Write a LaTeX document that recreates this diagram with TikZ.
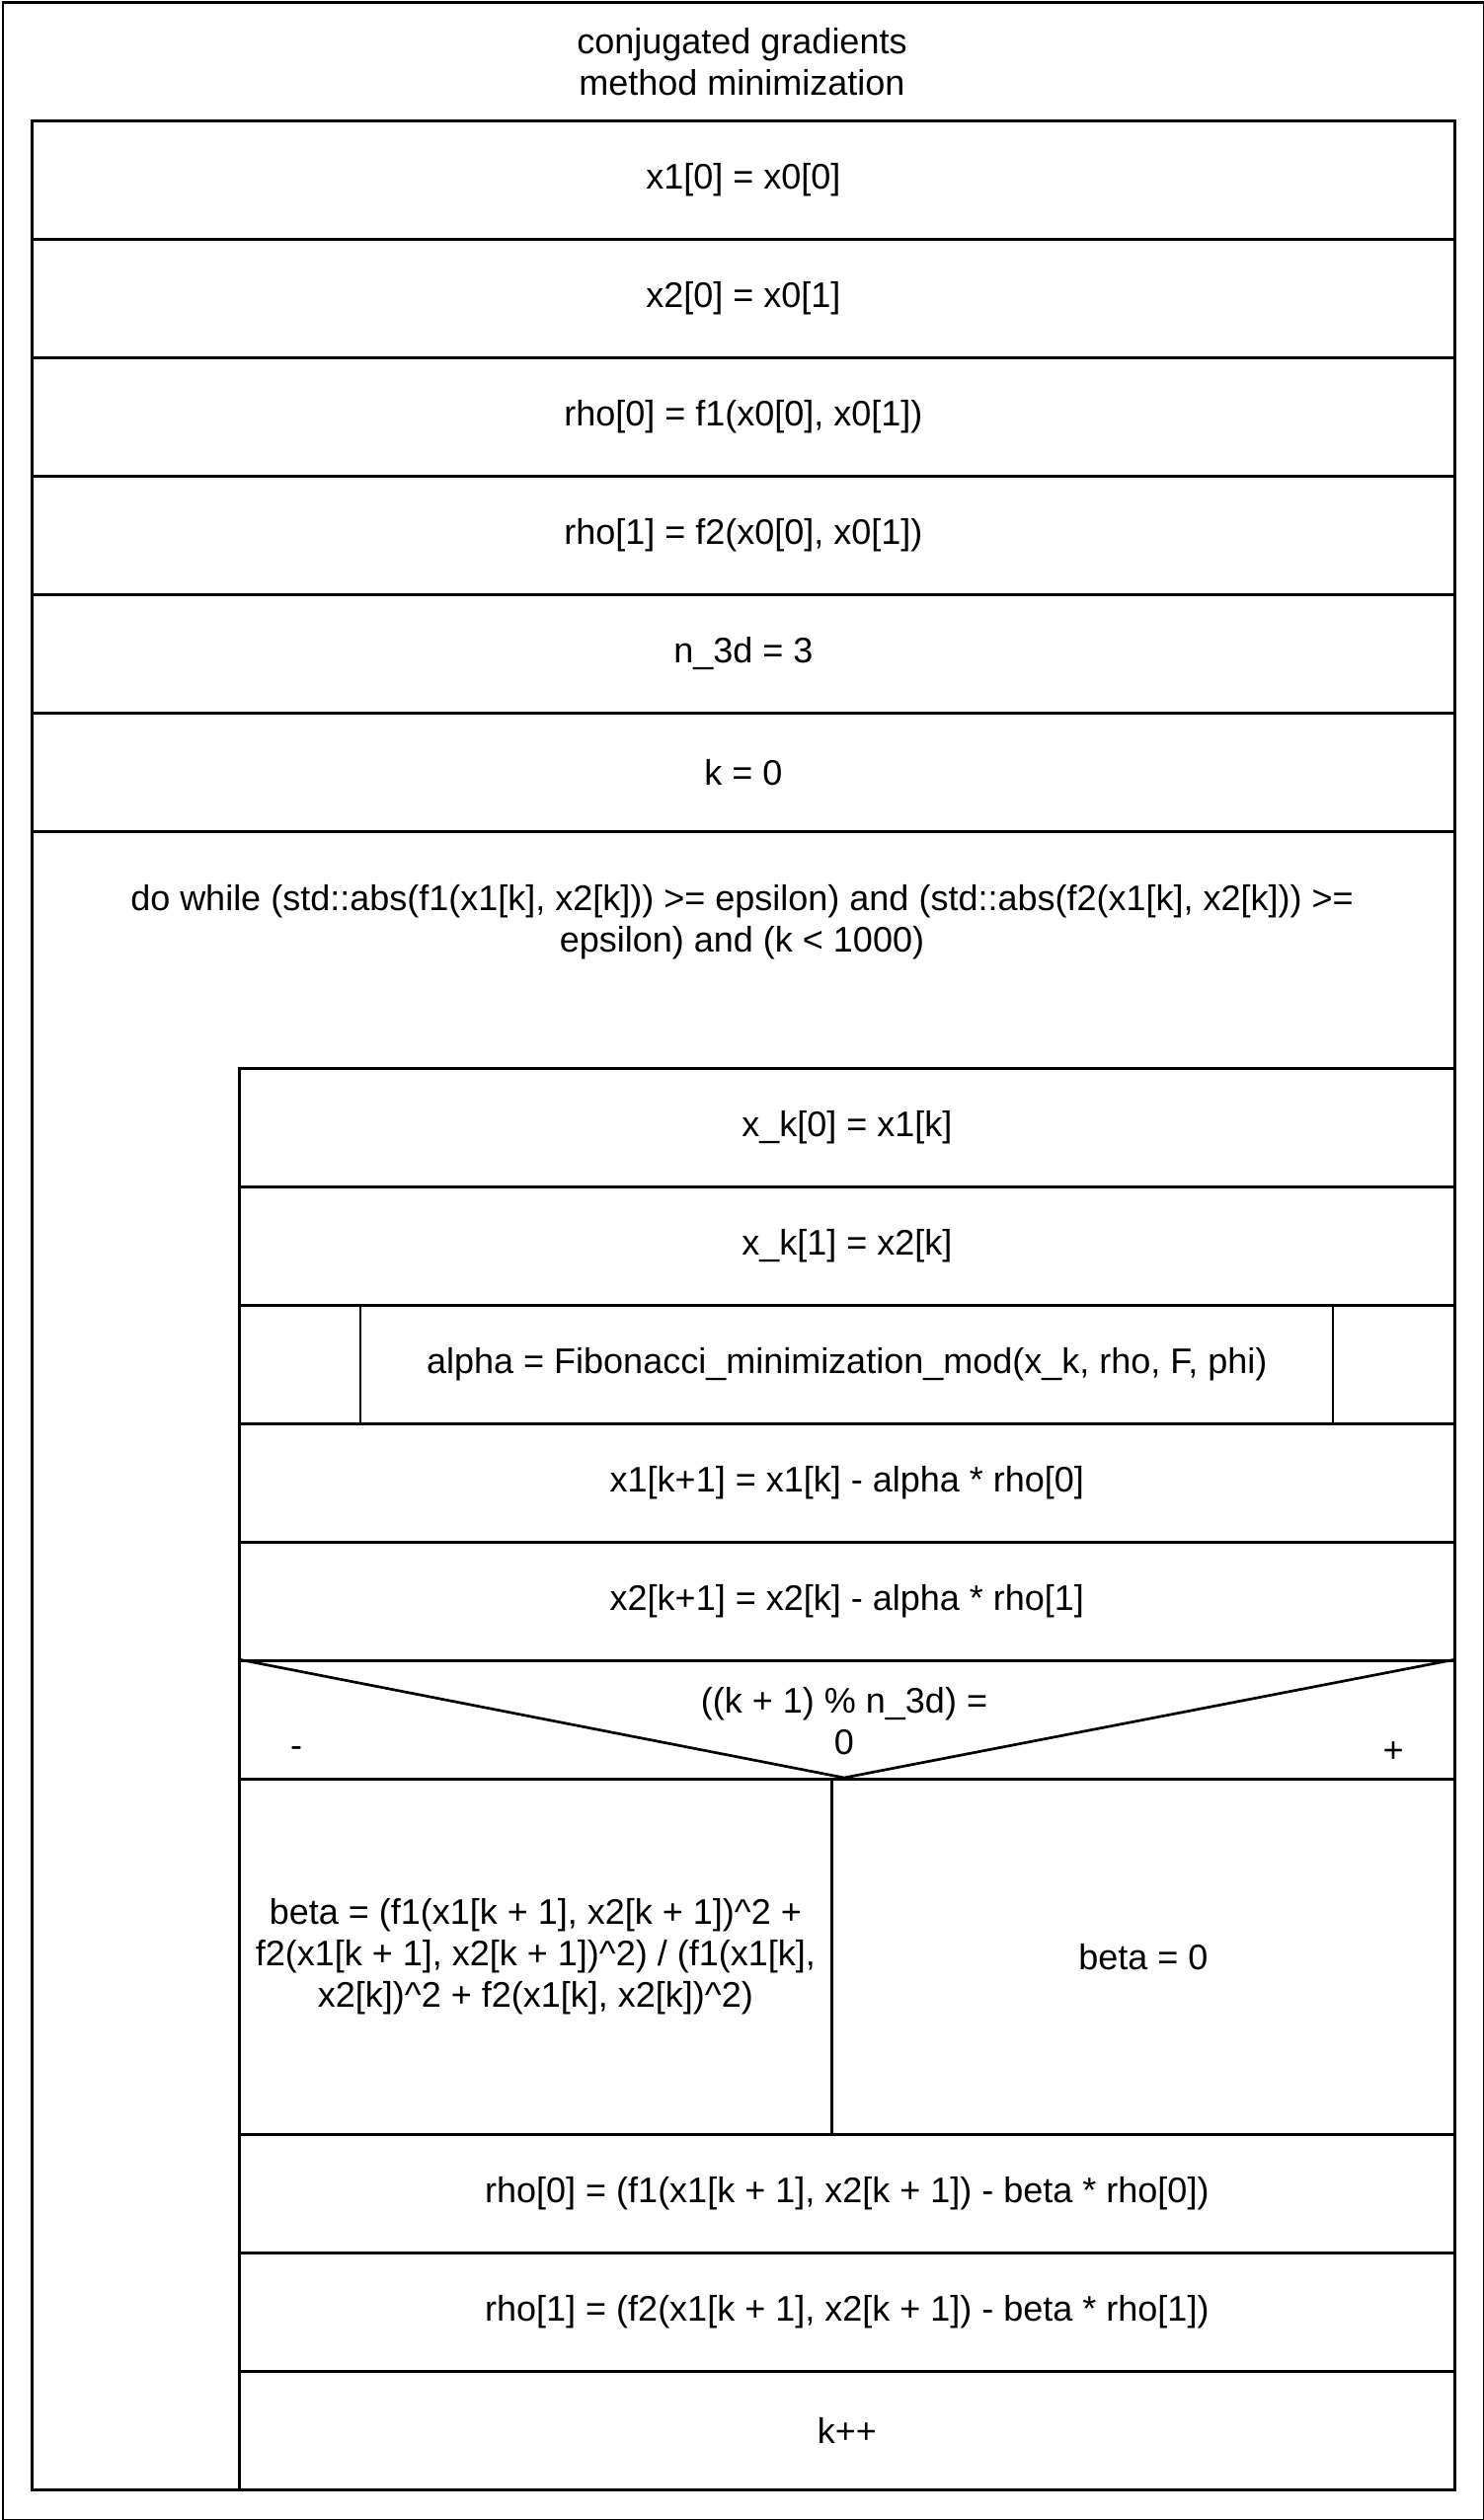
\documentclass[tikz,border=0pt]{standalone}
\usepackage{fontspec}
\setmainfont{Liberation Sans}
\begin{document}
\begin{tikzpicture}[x=1pt, y=-1pt, font=\fontsize{36pt}{42pt}\selectfont]
	\tikzset{
		cbox/.style={draw=black, line width=2.7pt, anchor=north west, inner sep=0pt, align=center},
		crow/.style={cbox, minimum width=1441pt, minimum height=120pt},
		cbody/.style={cbox, minimum width=1231pt, minimum height=120pt},
		cline/.style={draw=black, line width=2.7pt},
		ctext/.style={align=center, inner sep=0pt}
	}
	\useasboundingbox (0,0) rectangle (1503,2553);
	\node[cbox, minimum width=1500pt, minimum height=2550pt] (frame) at (1.5,1.5) {};
	\node[ctext] (title) at (751.5,63) {conjugated gradients\\method minimization};
	% initial assignments
	\node[crow] (xa) at (31,121) {x1[0] = x0[0]};
	\node[crow] (xb) at (31,241) {x2[0] = x0[1]};
	\node[crow] (rhoa) at (31,361) {rho[0] = f1(x0[0], x0[1])};
	\node[crow] (rhob) at (31,481) {rho[1] = f2(x0[0], x0[1])};
	\node[crow] (n3d) at (31,601) {n\_3d = 3};
	\node[crow] (kzero) at (31,721) {k = 0};
	% loop
	\node[cbox, minimum width=1441pt, minimum height=1680pt] (loop) at (31,841) {};
	\node[ctext] (cond) at (751.5,934) {do while (std::abs(f1(x1[k], x2[k])) >= epsilon) and (std::abs(f2(x1[k], x2[k])) >=\\epsilon) and (k < 1000)};
	\node[cbody] (xka) at (241,1081) {x\_k[0] = x1[k]};
	\node[cbody] (xkb) at (241,1201) {x\_k[1] = x2[k]};
	\node[cbody] (alpha) at (241,1321) {alpha = Fibonacci\_minimization\_mod(x\_k, rho, F, phi)};
	\draw[cline] (365,1321) -- (365,1441);
	\draw[cline] (1350,1321) -- (1350,1441);
	\node[cbody] (xnext) at (241,1441) {x1[k+1] = x1[k] - alpha * rho[0]};
	\node[cbody] (ynext) at (241,1561) {x2[k+1] = x2[k] - alpha * rho[1]};
	% branch
	\node[cbody] (dec) at (241,1681) {};
	\coordinate (apex) at (855,1801);
	\draw[cline] (dec.north west) -- (apex) -- (dec.north east);
	\node[ctext] (dectxt) at (855,1744) {((k + 1) \% n\_3d) =\\0};
	\node[ctext] (minus) at (300,1775) {-};
	\node[ctext] (plus) at (1411,1775) {+};
	\node[cbox, minimum width=600pt, minimum height=360pt] (no) at (241,1801) {beta = (f1(x1[k + 1], x2[k + 1])\textasciicircum2 +\\f2(x1[k + 1], x2[k + 1])\textasciicircum2) / (f1(x1[k],\\x2[k])\textasciicircum2 + f2(x1[k], x2[k])\textasciicircum2)};
	\node[cbox, minimum width=631pt, minimum height=360pt] (yes) at (841,1801) {beta = 0};
	\node[cbody] (rhonexta) at (241,2161) {rho[0] = (f1(x1[k + 1], x2[k + 1]) - beta * rho[0])};
	\node[cbody] (rhonextb) at (241,2281) {rho[1] = (f2(x1[k + 1], x2[k + 1]) - beta * rho[1])};
	\node[cbody] (kinc) at (241,2401) {k++};
\end{tikzpicture}
\end{document}
